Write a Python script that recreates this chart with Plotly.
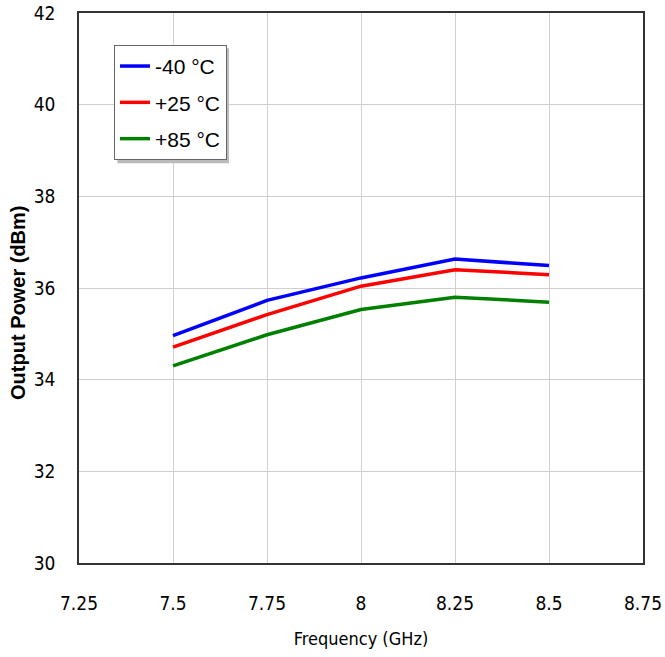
import plotly.graph_objects as go

freq = [7.5, 7.75, 8.0, 8.25, 8.5]
p_m40 = [34.96, 35.73, 36.22, 36.63, 36.49]
p_p25 = [34.71, 35.42, 36.04, 36.40, 36.29]
p_p85 = [34.30, 34.98, 35.53, 35.80, 35.69]
names = ["-40 °C", "+25 °C", "+85 °C"]
colors = ["#0000FF", "#FF0000", "#008000"]
x_ticks = [7.25, 7.5, 7.75, 8.0, 8.25, 8.5, 8.75]
x_ticktext = ["7.25", "7.5", "7.75", "8", "8.25", "8.5", "8.75"]
y_ticks = [30, 32, 34, 36, 38, 40, 42]

font_fam = "DejaVu Sans Condensed, Liberation Sans Narrow, Liberation Sans, Arial"

fig = go.Figure()
for ys, n, c in zip([p_m40, p_p25, p_p85], names, colors):
    fig.add_trace(go.Scatter(x=freq, y=ys, name=n, mode="lines", legendgroup=n,
                             line=dict(color=c, width=3.5)))

fig.update_layout(
    width=665, height=657,
    margin=dict(l=79, r=22, t=13, b=94, autoexpand=False),
    paper_bgcolor="white", plot_bgcolor="white",
    font=dict(family=font_fam, size=19, color="black"),
    showlegend=True,
    legend=dict(x=0.062, y=0.942, xanchor="left", yanchor="top",
                bordercolor="#666666", borderwidth=1, bgcolor="white",
                font=dict(family="Liberation Sans, Arial", size=21),
                tracegroupgap=6, itemwidth=30),
    xaxis=dict(range=[7.25, 8.75], tickvals=x_ticks, ticktext=x_ticktext,
               showgrid=True, gridcolor="#D0D0D0", gridwidth=1,
               showline=True, linecolor="#333333", linewidth=1.5, mirror=True,
               ticks="", ticklabelstandoff=22, zeroline=False, automargin=False,
               ticklabeloverflow="allow",
               title=dict(text="Frequency (GHz)", standoff=20,
                          font=dict(family=font_fam, size=18)),
               tickfont=dict(family=font_fam, size=19)),
    yaxis=dict(range=[30, 42], tickvals=y_ticks,
               showgrid=True, gridcolor="#D0D0D0", gridwidth=1,
               showline=True, linecolor="#333333", linewidth=1.5, mirror=True,
               ticks="", ticklabelstandoff=18, zeroline=False, automargin=False,
               ticklabeloverflow="allow",
               tickfont=dict(family=font_fam, size=19)),
    annotations=[dict(text="<b>Output Power (dBm)</b>", textangle=-90,
                      xref="paper", yref="paper", x=-0.108, y=0.473,
                      xanchor="center", yanchor="middle", showarrow=False,
                      font=dict(family="Liberation Sans, Arial", size=20))],
    shapes=[dict(type="rect", xref="paper", yref="paper",
                 x0=0.068, x1=0.266, y0=0.727, y1=0.936,
                 fillcolor="#BBBBBB", line=dict(width=0), layer="above")],
)

fig.write_html("out.html", config={"displayModeBar": False},
               post_script="document.body.style.margin='0';")
